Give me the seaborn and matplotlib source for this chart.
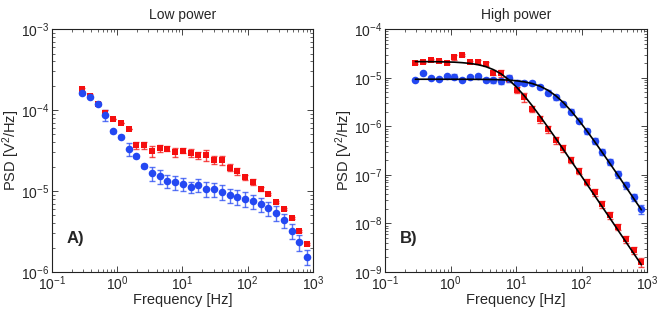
import numpy as np
import pandas as pd
import matplotlib
matplotlib.use("Agg")
import matplotlib.pyplot as plt
import seaborn as sns

freq = [0.29, 0.38, 0.50, 0.66, 0.87, 1.14, 1.50, 1.97, 2.59, 3.41,
        4.48, 5.89, 7.75, 10.2, 13.4, 17.6, 23.2, 30.5, 40.1, 52.7,
        69.3, 91.2, 120, 158, 207, 273, 359, 472, 620, 816]

# low power
low_red = [1.8e-4, 1.5e-4, 1.2e-4, 9.3e-5, 7.8e-5, 7.0e-5, 5.9e-5, 3.7e-5, 3.7e-5, 3.1e-5,
           3.4e-5, 3.35e-5, 3.0e-5, 3.15e-5, 2.96e-5, 2.77e-5, 2.77e-5, 2.45e-5, 2.4e-5, 1.95e-5,
           1.75e-5, 1.48e-5, 1.3e-5, 1.06e-5, 9.1e-6, 7.4e-6, 6.0e-6, 4.6e-6, 3.25e-6, 2.22e-6]
low_red_err = [0.05, 0.04, 0.05, 0.08, 0, 0, 0, 0.1, 0.1, 0.15,
               0.1, 0.08, 0.12, 0.07, 0.12, 0.1, 0.15, 0.12, 0.12, 0.1,
               0.1, 0.08, 0.08, 0.06, 0.03, 0.03, 0.03, 0.03, 0.03, 0.03]
low_blue = [1.61e-4, 1.44e-4, 1.2e-4, 8.6e-5, 5.5e-5, 4.67e-5, 3.3e-5, 2.69e-5, 2.06e-5, 1.67e-5,
            1.52e-5, 1.32e-5, 1.28e-5, 1.22e-5, 1.11e-5, 1.2e-5, 1.07e-5, 1.06e-5, 9.8e-6, 8.9e-6,
            8.5e-6, 8.0e-6, 7.45e-6, 6.9e-6, 6.1e-6, 5.4e-6, 4.33e-6, 3.25e-6, 2.34e-6, 1.55e-6]
low_blue_err = [0.03, 0.03, 0.05, 0.15, 0.04, 0.04, 0.18, 0.04, 0.06, 0.2,
                0.2, 0.18, 0.2, 0.18, 0.15, 0.18, 0.2, 0.2, 0.2, 0.2,
                0.2, 0.2, 0.2, 0.2, 0.2, 0.2, 0.2, 0.22, 0.22, 0.22]

# high power
high_red = [1.99e-5, 2.15e-5, 2.33e-5, 2.25e-5, 2.05e-5, 2.65e-5, 2.99e-5, 2.15e-5, 2.15e-5, 1.9e-5,
            1.27e-5, 1.24e-5, 9.5e-6, 5.6e-6, 3.97e-6, 2.28e-6, 1.39e-6, 8.7e-7, 5.2e-7, 3.5e-7,
            2.02e-7, 1.21e-7, 7.3e-8, 4.36e-8, 2.5e-8, 1.48e-8, 8.5e-9, 4.74e-9, 2.8e-9, 1.61e-9]
high_red_err = [0.05, 0.05, 0.05, 0.05, 0.05, 0.12, 0.05, 0.05, 0.1, 0.1,
                0.12, 0.15, 0.15, 0.15, 0.2, 0.15, 0.15, 0.15, 0.15, 0.15,
                0.15, 0.15, 0.15, 0.15, 0.15, 0.15, 0.15, 0.15, 0.15, 0.2]
high_blue = [9.0e-6, 1.24e-5, 9.9e-6, 9.6e-6, 1.09e-5, 1.05e-5, 9.1e-6, 1.02e-5, 1.1e-5, 8.9e-6,
             9.0e-6, 8.5e-6, 9.8e-6, 7.9e-6, 7.7e-6, 7.7e-6, 6.37e-6, 4.93e-6, 3.97e-6, 2.88e-6,
             2.0e-6, 1.3e-6, 8.0e-7, 4.98e-7, 2.99e-7, 1.86e-7, 1.02e-7, 6.07e-8, 3.43e-8, 2.0e-8]
high_blue_err = [0.03, 0.03, 0.05, 0.05, 0.05, 0.12, 0.05, 0.05, 0.05, 0.1,
                 0.12, 0.12, 0.15, 0.12, 0.1, 0.1, 0.1, 0.12, 0.12, 0.12,
                 0.12, 0.12, 0.12, 0.15, 0.15, 0.15, 0.15, 0.15, 0.15, 0.2]

# fitted curves
fit_red = [2.15e-5, 2.14e-5, 2.14e-5, 2.13e-5, 2.11e-5, 2.09e-5, 2.04e-5, 1.97e-5, 1.86e-5, 1.70e-5,
           1.47e-5, 1.20e-5, 9.04e-6, 6.35e-6, 4.2e-6, 2.65e-6, 1.61e-6, 9.6e-7, 5.67e-7, 3.32e-7,
           1.93e-7, 1.12e-7, 6.48e-8, 3.75e-8, 2.18e-8, 1.26e-8, 7.26e-9, 4.2e-9, 2.44e-9, 1.41e-9]
fit_blue = [9.3e-6, 9.3e-6, 9.3e-6, 9.3e-6, 9.29e-6, 9.29e-6, 9.28e-6, 9.27e-6, 9.25e-6, 9.22e-6,
            9.17e-6, 9.07e-6, 8.91e-6, 8.64e-6, 8.22e-6, 7.59e-6, 6.68e-6, 5.54e-6, 4.28e-6, 3.07e-6,
            2.06e-6, 1.31e-6, 8.07e-7, 4.83e-7, 2.88e-7, 1.68e-7, 9.78e-8, 5.68e-8, 3.30e-8, 1.91e-8]

RED = "#f50f0f"
BLUE = "#2448f2"

sns.set_style("ticks")
plt.rcParams["font.family"] = ["Liberation Sans", "DejaVu Sans"]
plt.rcParams["mathtext.fontset"] = "custom"
plt.rcParams["mathtext.rm"] = "Liberation Sans"
plt.rcParams["mathtext.it"] = "Liberation Sans"
plt.rcParams["axes.unicode_minus"] = False


def panel(ax, red, red_err, blue, blue_err, title, label, ylim, fits=None):
    df = pd.DataFrame({"f": freq * 2,
                       "psd": red + blue,
                       "err": red_err + blue_err,
                       "set": ["red"] * len(freq) + ["blue"] * len(freq)})
    for name, color in [("red", RED), ("blue", BLUE)]:
        d = df[df["set"] == name]
        e = d["psd"] * d["err"]
        ax.errorbar(d["f"], d["psd"], yerr=e, fmt="none", ecolor=color,
                    elinewidth=1.0, capsize=2, capthick=1.0, alpha=0.75, zorder=2)
    sns.scatterplot(data=df[df["set"] == "red"], x="f", y="psd", ax=ax, color=RED,
                    marker="s", s=22, linewidth=0, zorder=3, legend=False)
    sns.scatterplot(data=df[df["set"] == "blue"], x="f", y="psd", ax=ax, color=BLUE,
                    marker="o", s=30, linewidth=0, zorder=3, legend=False)
    if fits is not None:
        for fv in fits:
            sns.lineplot(x=freq, y=fv, ax=ax, color="black", linewidth=1.2, zorder=4)
    ax.set_xscale("log")
    ax.set_yscale("log")
    ax.set_xlim(0.1, 1000)
    ax.set_ylim(*ylim)
    ax.set_title(title, fontsize=10, pad=7)
    ax.set_xlabel("Frequency [Hz]", fontsize=10.5, labelpad=0)
    ax.set_ylabel("PSD [V$^2$/Hz]", fontsize=10.5)
    ax.yaxis.set_label_coords(-0.115, 0.5)
    ax.tick_params(which="both", direction="in", top=True, right=True, labelsize=10, pad=2)
    ax.tick_params(which="major", length=4, width=0.6)
    ax.tick_params(which="minor", length=2, width=0.5)
    ax.xaxis.set_major_locator(matplotlib.ticker.LogLocator(base=10, numticks=10))
    ax.yaxis.set_major_locator(matplotlib.ticker.LogLocator(base=10, numticks=10))
    for s in ax.spines.values():
        s.set_linewidth(0.8)
        s.set_color("#222222")
    ax.text(0.055, 0.14, label, transform=ax.transAxes, fontsize=12,
            fontweight="bold", va="center", ha="left")


fig = plt.figure(figsize=(6.64, 3.09), dpi=100)
ax1 = fig.add_axes([0.0783, 0.1197, 0.393, 0.786])
ax2 = fig.add_axes([0.580, 0.1197, 0.3946, 0.786])

panel(ax1, low_red, low_red_err, low_blue, low_blue_err, "Low power", "A)", (1e-6, 1e-3))
panel(ax2, high_red, high_red_err, high_blue, high_blue_err, "High power", "B)", (1e-9, 1e-4),
      fits=[fit_red, fit_blue])

fig.savefig("out.png", dpi=100)
